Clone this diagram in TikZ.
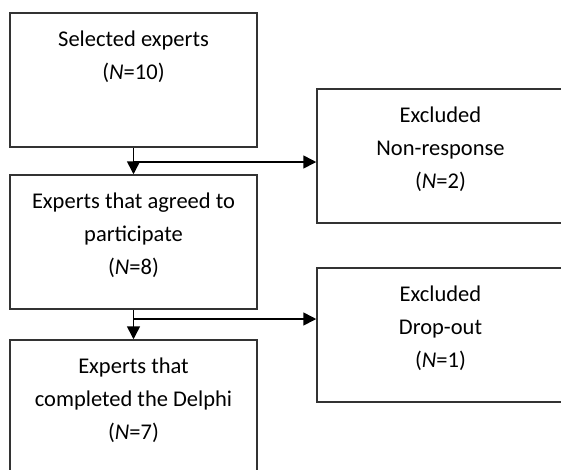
\documentclass[tikz,border=0pt]{standalone}
\usepackage{fontspec}
\setmainfont{Carlito}
\usetikzlibrary{positioning}
\usetikzlibrary{arrows.meta}

\begin{document}
\begin{tikzpicture}[x=1pt, y=-1pt,
		stage/.style={rectangle, draw=black!80, line width=1.5pt, minimum width=247pt, minimum height=134pt, inner sep=0pt},
		txt/.style={align=center, inner sep=0pt, font=\fontsize{22.5}{33}\selectfont},
		flow/.style={line width=1.6pt, -{Triangle[length=13pt, width=13pt]}}]
				\useasboundingbox (0,0) rectangle (561,469);
				\clip (0,0) rectangle (561,469);
				\node[stage] (sel) at (133.5,80) {};
				\node[stage] (agr) at (133.5,242) {};
				\node[stage] (cmp) at (133.5,407) {};
				\node[stage] (nonresp) at (440.5,156) {};
				\node[stage] (dropout) at (440.5,335) {};
				
				\node[txt, below=18pt of sel.north] (selT) {Selected experts\\(\textit{N}=10)};
				\node[txt, below=18pt of agr.north] (agrT) {Experts that agreed to\\participate\\(\textit{N}=8)};
				\node[txt, below=18pt of cmp.north] (cmpT) {Experts that\\completed the Delphi\\(\textit{N}=7)};
				\node[txt, below=18pt of nonresp.north] (nonrespT) {Excluded\\Non-response\\(\textit{N}=2)};
				\node[txt, below=18pt of dropout.north] (dropoutT) {Excluded\\Drop-out\\(\textit{N}=1)};
				
				\coordinate (b1) at (133.5,162);
				\coordinate (b2) at (133.5,319);
				
				\draw[flow] (sel) -- (agr);
				\draw[flow] (b1) -- (b1 -| nonresp.west);
				\draw[flow] (agr) -- (cmp);
				\draw[flow] (b2) -- (b2 -| dropout.west);
			\end{tikzpicture}
\end{document}
